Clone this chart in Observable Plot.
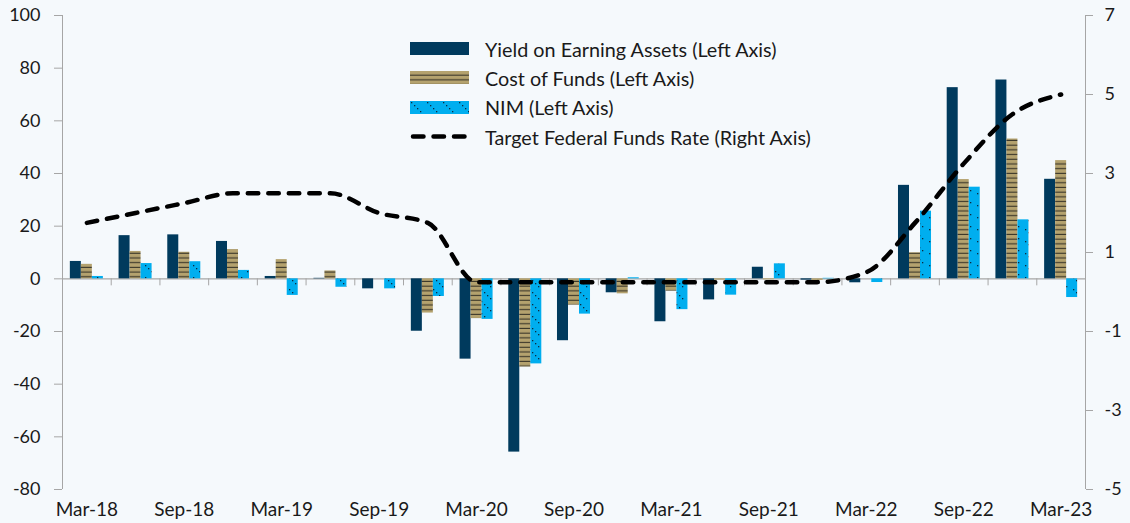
<!DOCTYPE html>
<html><head><meta charset="utf-8">
<script src="https://cdn.jsdelivr.net/npm/d3@7"></script>
<script src="https://cdn.jsdelivr.net/npm/@observablehq/plot@0.6"></script>
<style>
html,body{margin:0;padding:0;background:#f5f9fc;}
#wrap{position:relative;width:1130px;height:523px;font-family:Lato,sans-serif;}
#legend{position:absolute;left:410px;top:34px;}
.row{display:flex;align-items:center;height:29.3px;}
.row svg{margin-right:15px;flex:none;}
.row span{font-size:19.8px;color:#1a1a1a;white-space:nowrap;}
</style></head><body>
<svg width="0" height="0" style="position:absolute">
<defs>
<pattern id="cof" patternUnits="userSpaceOnUse" width="6" height="4.7">
<rect width="6" height="4.7" fill="#b4a26e"/>
<rect y="3.6" width="6" height="1.1" fill="#3a3629"/>
</pattern>
<pattern id="nim" patternUnits="userSpaceOnUse" width="16" height="12">
<rect width="16" height="12" fill="#00aeef"/>
<rect x="1" y="1" width="1.3" height="1.3" fill="#0b2b40"/>
<rect x="4" y="4" width="1.3" height="1.3" fill="#0b2b40"/>
<rect x="7" y="7" width="1.3" height="1.3" fill="#0b2b40"/>
<rect x="10" y="10" width="1.3" height="1.3" fill="#0b2b40"/>
</pattern>
</defs></svg>
<div id="wrap"><div id="chart"></div><div id="legend"></div></div>
<script>
const quarters = ["Mar-18","Jun-18","Sep-18","Dec-18","Mar-19","Jun-19","Sep-19","Dec-19","Mar-20","Jun-20","Sep-20","Dec-20","Mar-21","Jun-21","Sep-21","Dec-21","Mar-22","Jun-22","Sep-22","Dec-22","Mar-23"];
const yieldEA   = [6.6, 16.4, 16.7, 14.2, 0.9, 0.2, -3.8, -19.9, -30.5, -65.8, -23.5, -5.3, -16.3, -8.0, 4.4, -0.5, -1.5, 35.5, 72.6, 75.5, 37.8];
const costFunds = [5.5, 10.4, 10.1, 11.1, 7.3, 3.0, 0.0, -13.0, -15.1, -33.5, -10.0, -5.7, -4.7, -0.5, -0.4, -0.6, 0.0, 9.9, 37.7, 53.1, 44.9];
const nimVals   = [0.9, 5.8, 6.5, 3.2, -6.3, -3.2, -3.8, -6.7, -15.4, -32.3, -13.4, 0.4, -11.7, -6.2, 5.7, 0.2, -1.4, 25.7, 34.8, 22.4, -7.1];
const fedRate   = [1.75, 2.0, 2.25, 2.5, 2.5, 2.5, 2.0, 1.75, 0.25, 0.25, 0.25, 0.25, 0.25, 0.25, 0.25, 0.25, 0.5, 1.75, 3.25, 4.5, 5.0];
const leftTicks = [-80, -60, -40, -20, 0, 20, 40, 60, 80, 100];
const rightTicks = [7, 5, 3, 1, -1, -3, -5];
const labelIdx = [0, 2, 4, 6, 8, 10, 12, 14, 16, 18, 20];
const seriesNames = ["Yield on Earning Assets (Left Axis)", "Cost of Funds (Left Axis)", "NIM (Left Axis)", "Target Federal Funds Rate (Right Axis)"];

// right axis (-5..7) mapped onto left axis (-80..100)
const toLeft = r => (r - 1/3) * 15;
const toRight = l => l / 15 + 1/3;

const W = 1130, H = 523, ML = 62, MR = 45, MT = 15, MB = 34;
const bw = (W - ML - MR) / quarters.length;
const barW = bw * 0.226;
const pad = (bw - 3 * barW) / 2;
const grey = "#a6a6a6", ink = "#1a1a1a";

const series = [
  {values: yieldEA, fill: "#003a5d"},
  {values: costFunds, fill: "url(#cof)"},
  {values: nimVals, fill: "url(#nim)"}
];

const marks = [];
marks.push(Plot.ruleY([0], {stroke: grey, strokeWidth: 1.2}));
marks.push(Plot.ruleX(d3.range(quarters.length + 1).map(k => k - 0.5), {y1: 0, y2: 0, insetBottom: -7, stroke: grey}));
series.forEach((s, k) => {
  const data = quarters.map((q, i) => ({i, q, v: s.values[i]}));
  marks.push(Plot.rectY(data, {
    x1: d => d.i - 0.5, x2: d => d.i + 0.5, y1: 0, y2: "v",
    fill: s.fill, insetLeft: pad + k * barW, insetRight: bw - pad - (k + 1) * barW
  }));
});
marks.push(Plot.line(quarters.map((q, i) => ({i, y: toLeft(fedRate[i])})), {
  x: "i", y: "y", curve: "monotone-x", stroke: "#000", strokeWidth: 4.5,
  strokeDasharray: "10.5,10", strokeLinecap: "round"
}));
marks.push(Plot.ruleX([-0.5, quarters.length - 0.5], {stroke: grey}));
marks.push(Plot.axisY({anchor: "left", label: null, ticks: leftTicks, tickFormat: d => String(d), tickSize: 8, tickPadding: 14, fontSize: 18, stroke: grey, fill: ink}));
marks.push(Plot.axisY({anchor: "right", label: null, ticks: rightTicks.map(toLeft), tickFormat: d => String(Math.round(toRight(d))), tickSize: 7, tickPadding: 12, fontSize: 18, stroke: grey, fill: ink}));
marks.push(Plot.axisX({label: null, ticks: labelIdx, tickFormat: i => quarters[i], tickSize: 0, tickPadding: 13, fontSize: 19, fill: ink}));

const chart = Plot.plot({
  width: W, height: H,
  marginLeft: ML, marginRight: MR, marginTop: MT, marginBottom: MB,
  x: {type: "linear", domain: [-0.5, quarters.length - 0.5], label: null},
  y: {domain: [-80, 100], label: null},
  style: {background: "#f5f9fc", fontFamily: "Lato, sans-serif", color: ink},
  marks
});
document.getElementById("chart").appendChild(chart);

// legend
const legend = d3.select("#legend");
const swatches = [
  g => g.append("rect").attr("width", 59).attr("height", 13).attr("fill", "#003a5d"),
  g => g.append("rect").attr("width", 59).attr("height", 13).attr("fill", "url(#cof)"),
  g => g.append("rect").attr("width", 59).attr("height", 13).attr("fill", "url(#nim)"),
  g => g.append("line").attr("x1", 3).attr("x2", 57).attr("y1", 6.5).attr("y2", 6.5)
        .attr("stroke", "#000").attr("stroke-width", 4.5).attr("stroke-dasharray", "10.5,10").attr("stroke-linecap", "round")
];
seriesNames.forEach((name, k) => {
  const row = legend.append("div").attr("class", "row");
  const s = row.append("svg").attr("width", 60).attr("height", 13).style("overflow", "visible");
  swatches[k](s);
  row.append("span").text(name);
});
</script>
</body></html>
